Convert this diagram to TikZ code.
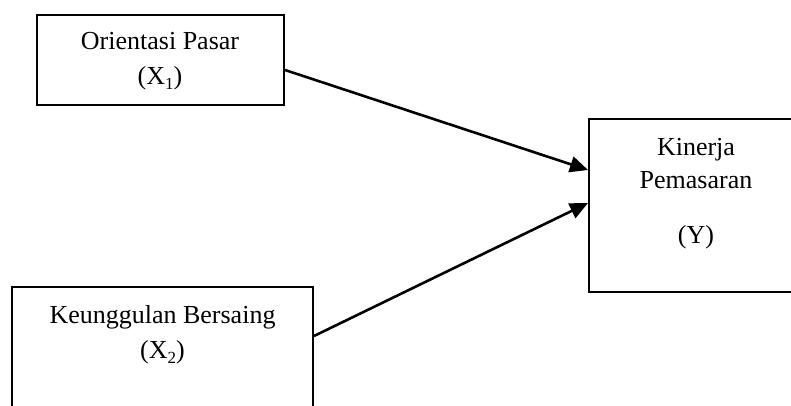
\documentclass[tikz,border=0pt]{standalone}
\usepackage{fontspec}
\setmainfont{Liberation Serif}
\usetikzlibrary{arrows.meta,calc}
\newcommand{\mysub}[1]{\raisebox{-5pt}{\fontsize{17}{17}\selectfont #1}}
\begin{document}
\begin{tikzpicture}[x=1pt,y=-1pt,
  box/.style={draw,line width=2pt,inner sep=0pt},
  lbl/.style={anchor=base,inner sep=0pt,font=\fontsize{26}{30}\selectfont},
  conn/.style={line width=2.6pt,-{Triangle[length=18pt,width=16pt]}}]
\useasboundingbox (0,0) rectangle (791,406);
\clip (0,0) rectangle (791,406);
\node[box,minimum width=247pt,minimum height=90pt] (x1) at (160.5,60) {};
\node[box,minimum width=214pt,minimum height=173pt] (y) at (696,205.5) {};
\node[box,minimum width=301pt,minimum height=140pt] (x2) at (162.5,357) {};
\node[lbl] (t1a) at (160,50) {Orientasi Pasar};
\node[lbl] (t1b) at (160,85) {(X\mysub{1})};
\node[lbl] (tya) at (696,155) {Kinerja};
\node[lbl] (tyb) at (696,188) {Pemasaran};
\node[lbl] (tyc) at (696,243) {(Y)};
\node[lbl] (t2a) at (162.5,323) {Keunggulan Bersaing};
\node[lbl] (t2b) at (162.5,358) {(X\mysub{2})};
\draw[conn] ([yshift=-10pt]x1.east) -- ([yshift=35.5pt]y.west);
\draw[conn] ([yshift=21pt]x2.east) -- ([yshift=2.5pt]y.west);
\end{tikzpicture}
\end{document}
